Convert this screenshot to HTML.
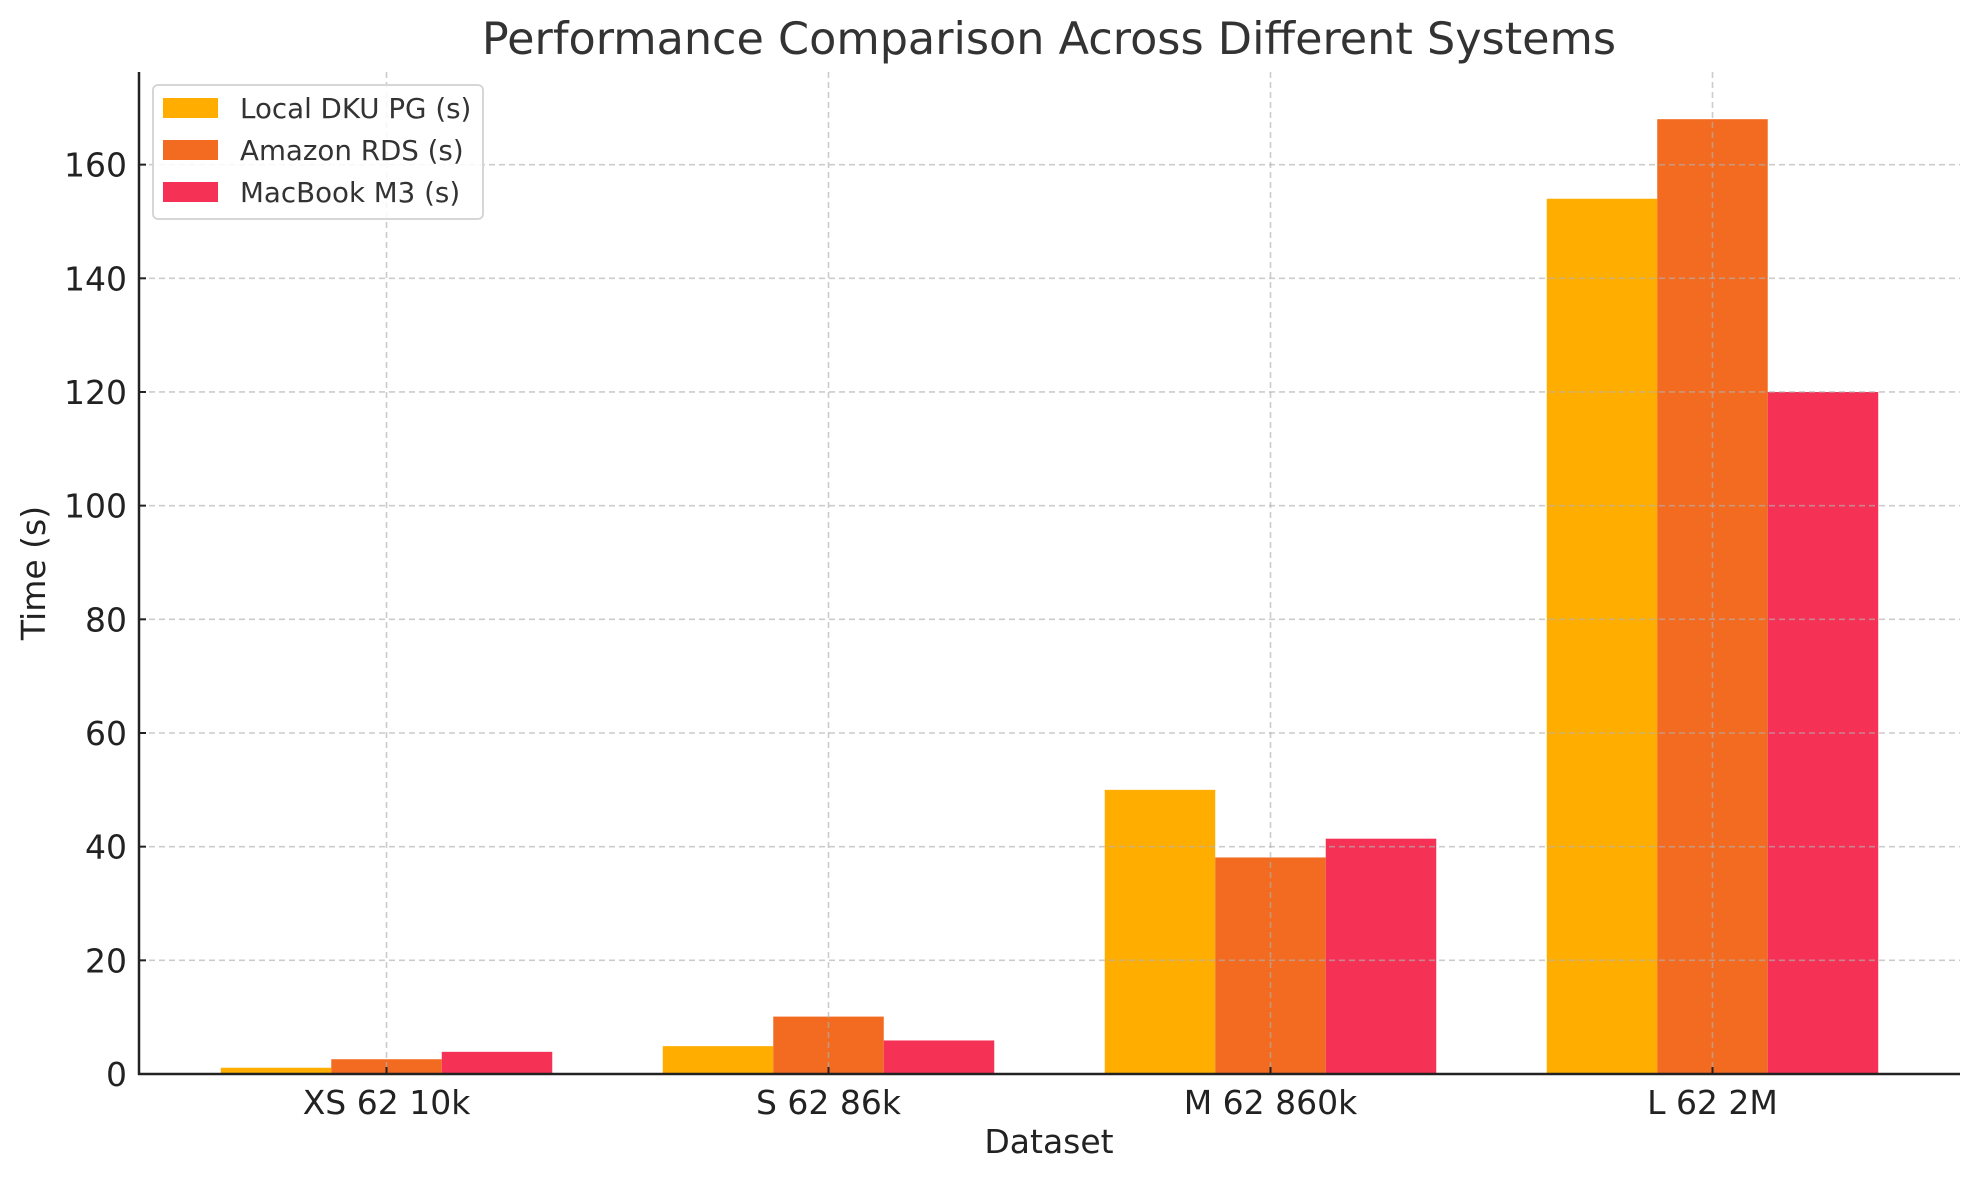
<!DOCTYPE html>
<html><head><meta charset="utf-8"><style>
html,body{margin:0;padding:0;background:#fff;}
svg{display:block;font-family:"DejaVu Sans","Liberation Sans",sans-serif;}
</style></head><body>
<svg id="chart" width="1979" height="1180" viewBox="0 0 1979 1180">
<text x="1049" y="54" text-anchor="middle" font-size="44.5" fill="#333">Performance Comparison Across Different Systems</text>
<g id="bars"></g>
<g id="grid"></g>
<g id="axes"></g>
<text x="1049" y="1153" text-anchor="middle" font-size="33" fill="#222">Dataset</text>
<text transform="translate(45,573) rotate(-90)" text-anchor="middle" font-size="33" fill="#222">Time (s)</text>
<g id="legend"></g>
</svg>
<script>
const categories = ["XS 62 10k", "S 62 86k", "M 62 860k", "L 62 2M"];
const seriesNames = ["Local DKU PG (s)", "Amazon RDS (s)", "MacBook M3 (s)"];
const localDku = [1.1, 4.9, 50, 154];
const amazonRds = [2.6, 10.1, 38.1, 168];
const macbookM3 = [3.9, 5.9, 41.4, 120];
const yTicks = [0, 20, 40, 60, 80, 100, 120, 140, 160];

const colors = ["#FFAE00", "#F26B21", "#F53155"];
const series = [localDku, amazonRds, macbookM3];
const NS = "http://www.w3.org/2000/svg";
const L = 139, R = 1960, T = 72, B = 1074;
const yMax = 176.3;
const xMin = -0.56, xMax = 3.56;
function xs(v){ return L + (v - xMin) / (xMax - xMin) * (R - L); }
function ys(v){ return B - v / yMax * (B - T); }
function mk(tag, attrs, parent){ const e = document.createElementNS(NS, tag); for (const k in attrs) e.setAttribute(k, attrs[k]); parent.appendChild(e); return e; }

const barsG = document.getElementById('bars');
const bw = 0.25;
series.forEach((s, si) => {
  s.forEach((v, ci) => {
    const cx = ci + (si - 1) * bw;
    const x0 = xs(cx - bw / 2), x1 = xs(cx + bw / 2);
    const r = mk('rect', {x: x0, y: ys(v), width: x1 - x0, height: ys(0) - ys(v), fill: colors[si]}, barsG);
    
    
  });
});

const gridG = document.getElementById('grid');
yTicks.forEach(t => {
  if (t === 0) return;
  const l = mk('line', {x1: L, x2: R, y1: ys(t), y2: ys(t), stroke: "#b0b0b0", 'stroke-opacity': 0.65, 'stroke-width': 1.6, 'stroke-dasharray': '6,4'}, gridG);
  
  
});
categories.forEach((c, i) => {
  const l = mk('line', {x1: xs(i), x2: xs(i), y1: T, y2: B, stroke: "#b0b0b0", 'stroke-opacity': 0.65, 'stroke-width': 1.6, 'stroke-dasharray': '6,4'}, gridG);
  
  
});

const axG = document.getElementById('axes');
const ax1 = mk('line', {x1: L, x2: L, y1: T, y2: B + 1, stroke: "#222", 'stroke-width': 2.5}, axG);


const ax2 = mk('line', {x1: L - 1, x2: R, y1: B, y2: B, stroke: "#222", 'stroke-width': 2.5}, axG);


yTicks.forEach(t => {
  const tk = mk('line', {x1: L, x2: L + 7, y1: ys(t), y2: ys(t), stroke: "#222", 'stroke-width': 2}, axG);
  
  
  const tx = mk('text', {x: L - 12, y: ys(t) + 12, 'text-anchor': 'end', 'font-size': 33, fill: '#222'}, axG);
  tx.textContent = t;
  
  
});
categories.forEach((c, i) => {
  const tk = mk('line', {x1: xs(i), x2: xs(i), y1: B, y2: B - 7, stroke: "#222", 'stroke-width': 2}, axG);
  
  
  const tx = mk('text', {x: xs(i), y: B + 40, 'text-anchor': 'middle', 'font-size': 33, fill: '#222'}, axG);
  tx.textContent = c;
  
  
});

const lg = document.getElementById('legend');
const box = mk('rect', {x: 153, y: 85, width: 330, height: 134, rx: 5, fill: '#fff', 'fill-opacity': 0.85, stroke: '#d6d6d6', 'stroke-width': 2}, lg);


seriesNames.forEach((n, i) => {
  const y = 98 + i * 42;
  const sw = mk('rect', {x: 163, y: y, width: 55, height: 20, fill: colors[i]}, lg);
  
  
  const tx = mk('text', {x: 240, y: y + 20, 'font-size': 27.7, fill: '#333'}, lg);
  tx.textContent = n;
  
  
});
</script>
</body></html>
